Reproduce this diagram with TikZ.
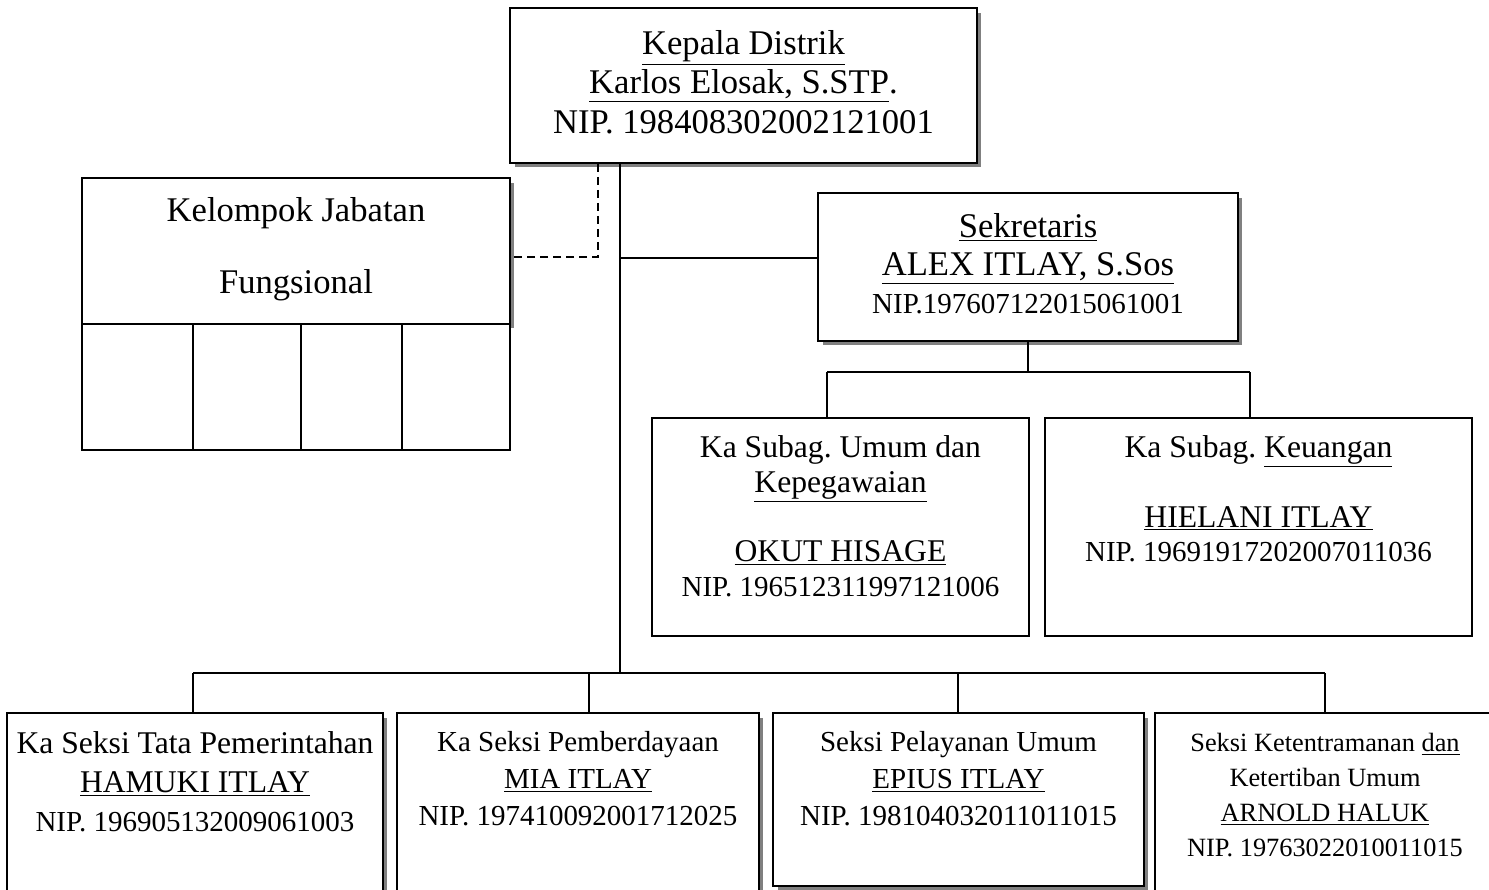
\documentclass[tikz,border=0pt]{standalone}
\usepackage{fontspec}
\setmainfont{Liberation Serif}
\usetikzlibrary{positioning,shadows,calc}
\frenchspacing

\tikzset{
  unit/.style={draw, line width=1pt, fill=white, inner sep=0pt},
  unitshadow/.style={unit, drop shadow={shadow xshift=0.09cm, shadow yshift=-0.09cm, fill=black!50, opacity=1}},
  txt/.style={inner sep=0pt, align=center},
  link/.style={line width=1pt},
  dashlink/.style={line width=1pt, dash pattern=on 0.16cm off 0.1cm}
}

\begin{document}
\begin{tikzpicture}[x=0.02cm, y=-0.02cm]
	\useasboundingbox (0,0) rectangle (1489,890);
	\clip (0,0) rectangle (1489,890);

	%% boxes
	\node[unitshadow, minimum width=9.34cm, minimum height=3.1cm] (kepala) at (743.5,85.5) {};
	\node[unitshadow, minimum width=8.56cm, minimum height=2.92cm] (kelompok) at (296,251) {};
	\foreach \a/\b in {82/193,193/301,301/402,402/510}
		\draw[link, fill=white] (\a,324) rectangle (\b,450);
	\node[unitshadow, minimum width=8.4cm, minimum height=2.96cm] (sekretaris) at (1028,267) {};
	\node[unit, minimum width=7.54cm, minimum height=4.36cm] (umum) at (840.5,527) {};
	\node[unit, minimum width=8.54cm, minimum height=4.36cm] (keuangan) at (1258.5,527) {};

	\node[unitshadow, minimum width=7.52cm, minimum height=4cm] (pemerintahan) at (195,813) {};
	\node[unitshadow, minimum width=7.24cm, minimum height=4cm] (pemberdayaan) at (578,813) {};
	\node[unitshadow, minimum width=7.42cm, minimum height=3.46cm] (pelayanan) at (958.5,799.5) {};
	\node[unitshadow, minimum width=6.8cm, minimum height=4cm] (ketentraman) at (1325,813) {};

	%% texts
	\node[txt, font=\fontsize{19.7}{22.4}\selectfont, below=0.46cm of kepala.north] (kepalatext)
		{\underline{Kepala Distrik}\\ \underline{Karlos Elosak, S.STP}.\\ NIP. 198408302002121001};
	\node[txt, font=\fontsize{19.7}{41}\selectfont, below=0.4cm of kelompok.north] (kelompoktext)
		{Kelompok Jabatan\\ Fungsional};
	\node[txt, font=\fontsize{19.7}{21.5}\selectfont, below=0.42cm of sekretaris.north] (sekretaristext)
		{\underline{Sekretaris}\\ \underline{ALEX ITLAY, S.Sos}\\ \fontsize{16.5}{19}\selectfont NIP.197607122015061001};
	\node[txt, font=\fontsize{18}{19.8}\selectfont, below=0.36cm of umum.north] (umumtext)
		{Ka Subag. Umum dan\\ \underline{Kepegawaian}\\ \\ \underline{OKUT HISAGE}\\ \fontsize{16.5}{19}\selectfont NIP. 196512311997121006};
	\node[txt, font=\fontsize{18}{19.8}\selectfont, below=0.36cm of keuangan.north] (keuangantext)
		{Ka Subag. \underline{Keuangan}\\ \\ \underline{HIELANI ITLAY}\\ \fontsize{16.5}{19}\selectfont NIP. 19691917202007011036};
	\node[txt, font=\fontsize{18}{22.3}\selectfont, below=0.38cm of pemerintahan.north] (pemerintahantext)
		{Ka Seksi Tata Pemerintahan\\ \underline{HAMUKI ITLAY}\\ \fontsize{16.5}{19}\selectfont NIP. 196905132009061003};
	\node[txt, font=\fontsize{16.5}{21}\selectfont, below=0.38cm of pemberdayaan.north] (pemberdayaantext)
		{Ka Seksi Pemberdayaan\\ \underline{MIA ITLAY}\\ NIP. 197410092001712025};
	\node[txt, font=\fontsize{16.5}{21}\selectfont, below=0.38cm of pelayanan.north] (pelayanantext)
		{Seksi Pelayanan Umum\\ \underline{EPIUS ITLAY}\\ NIP. 198104032011011015};
	\node[txt, font=\fontsize{15}{19.8}\selectfont, below=0.42cm of ketentraman.north] (ketentramantext)
		{Seksi Ketentramanan \underline{dan}\\ Ketertiban Umum\\ \underline{ARNOLD HALUK}\\ NIP. 19763022010011015};

	%% connectors
	\coordinate (trunk) at (620,258);
	\coordinate (dash) at (598,257);
	\coordinate (bus) at (620,673);
	\coordinate (subbus) at (1028,372);

	\draw[link] (kepala.south -| trunk) -- (bus);
	\draw[link] (trunk) -- (trunk -| sekretaris.west);
	\draw[dashlink] (kepala.south -| dash) -- (dash) -- (dash -| kelompok.east);

	\draw[link] (sekretaris.south) -- (subbus);
	\draw[link] (827,372) -- (1250,372);
	\draw[link] (827,372) -- (umum.north -| 827,0);
	\draw[link] (1250,372) -- (keuangan.north -| 1250,0);

	\draw[link] (193,673) -- (1325,673);
	\foreach \n/\x in {pemerintahan/193,pemberdayaan/589,pelayanan/958,ketentraman/1325}
		\draw[link] (\x,673) -- (\n.north -| \x,0);
\end{tikzpicture}
\end{document}
